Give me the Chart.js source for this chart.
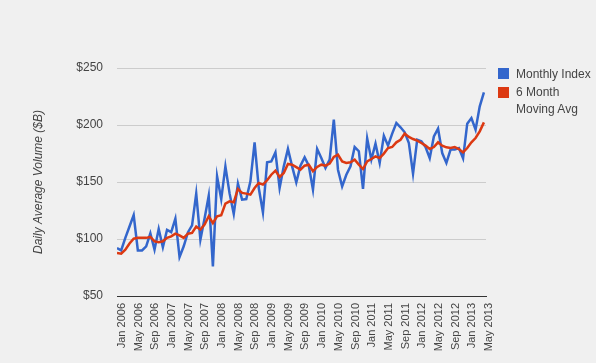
<!DOCTYPE html>
<html><head><meta charset="utf-8">
<script src="https://cdn.jsdelivr.net/npm/chart.js@4"></script>
<style>
html,body{margin:0;padding:0;background:#f0f0f0;}
#wrap{position:relative;width:596px;height:363px;background:#f0f0f0;}
canvas{position:absolute;left:0;top:0;}
.leg{position:absolute;font:12px "Liberation Sans",Arial,sans-serif;color:#444;white-space:nowrap;}
.sw{position:absolute;width:11px;height:11px;}
</style></head><body>
<div id="wrap"><canvas id="c" width="596" height="363"></canvas>
<div class="sw" style="left:498px;top:68px;background:#3366cc"></div>
<div class="leg" style="left:516px;top:66px;line-height:16px">Monthly Index</div>
<div class="sw" style="left:498px;top:87px;background:#dc3912"></div>
<div class="leg" style="left:516px;top:84px;line-height:16.5px">6 Month<br>Moving Avg</div>
</div>
<script>
const tickLabels = ["Jan 2006","May 2006","Sep 2006","Jan 2007","May 2007","Sep 2007","Jan 2008","May 2008","Sep 2008","Jan 2009","May 2009","Sep 2009","Jan 2010","May 2010","Sep 2010","Jan 2011","May 2011","Sep 2011","Jan 2012","May 2012","Sep 2012","Jan 2013","May 2013"];
const yTicks = [50,100,150,200,250];
const monthlyIndex = [92,90,101,111,121,90,90,93.5,105,90.6,108.8,92.7,108,106,117.8,84.2,93.6,105.8,112,139.8,99.4,118,138,76,155,135,163.7,140,122,148.5,134.5,135,150.6,184.8,144.7,123.4,167.3,168,176,144.7,163.7,179,163.7,149.7,164.3,171.6,164.3,143.3,179,171,162.3,169.6,204.7,160.8,146.2,156.4,163.7,180.7,177,143.9,188.3,169.6,183.6,166.7,190.6,181.9,192.4,201.8,198,193.6,184.2,157.3,187.1,185.7,180.7,171,190,196.8,175.4,166.7,178.4,178.4,179.8,170.8,201.2,206.1,195.9,216.4,228.7];
const movingAvg = [87.7,87.1,90.6,96,100.3,101,101,101,101.8,98,97.1,98,101,102.3,104.7,103.2,101,104.7,105.3,111,108.2,112.6,119.9,114,119.9,120.8,131,133,132.2,143.9,140.4,139.8,138.9,144.7,149.1,147.7,151.5,156.4,160,154.4,157.9,165.8,165.2,163,160.8,164.3,165.2,159.4,163.2,165.2,164.3,166.1,171.9,174,168.1,166.7,167.3,169.6,165.2,161.4,168.1,170.2,172.5,171,174.9,179.8,180.7,184.8,187.1,192.4,189.5,187.7,186.3,184.2,181.9,178.9,180.7,184.8,181.9,180.4,179.8,180.7,178.9,176,179.8,184.8,188.6,194.4,202.3];

Chart.defaults.font.family = '"Liberation Sans", Arial, sans-serif';
new Chart(document.getElementById('c'), {
  type: 'line',
  data: { datasets: [
    { label: 'Monthly Index', data: monthlyIndex.map((v,i)=>({x:i,y:v})), borderColor:'#3366cc', borderWidth:2.5, pointRadius:0, tension:0, order:1 },
    { label: '6 Month Moving Avg', data: movingAvg.map((v,i)=>({x:i,y:v})), borderColor:'#dc3912', borderWidth:2.5, pointRadius:0, tension:0, order:0 }
  ]},
  options: {
    responsive:false, animation:false,
    layout:{padding:{left:0,right:110,top:68,bottom:0}},
    plugins:{legend:{display:false}, tooltip:{enabled:false}},
    scales:{
      x:{ type:'linear', min:0, max:88.5,
        afterBuildTicks(s){ s.ticks = tickLabels.map((t,k)=>({value:k*4})); },
        ticks:{ callback:(v)=>tickLabels[Math.round(v/4)] ?? '', maxRotation:90, minRotation:90, autoSkip:false, padding:7, labelOffset:5, font:{size:11}, color:'#444' },
        grid:{ color:'rgba(0,0,0,0)', drawTicks:false },
        border:{ display:true, color:'#333', width:1 },
        afterFit(s){ s.height = 67; }
      },
      y:{ min:50, max:250,
        afterBuildTicks(s){ s.ticks = yTicks.map(v=>({value:v})); },
        ticks:{ callback:v=>'$'+v, padding:14, font:{size:12}, color:'#444' },
        grid:{ color:c=>c.tick && c.tick.value===50 ? 'rgba(0,0,0,0)' : '#cccccc', drawTicks:false },
        border:{ display:false },
        title:{ display:true, text:'Daily Average Volume ($B)', font:{size:12, style:'italic'}, color:'#444', padding:{top:31,bottom:0} },
        afterFit(s){ s.width = 117; }
      }
    }
  }
});
</script>
</body></html>
